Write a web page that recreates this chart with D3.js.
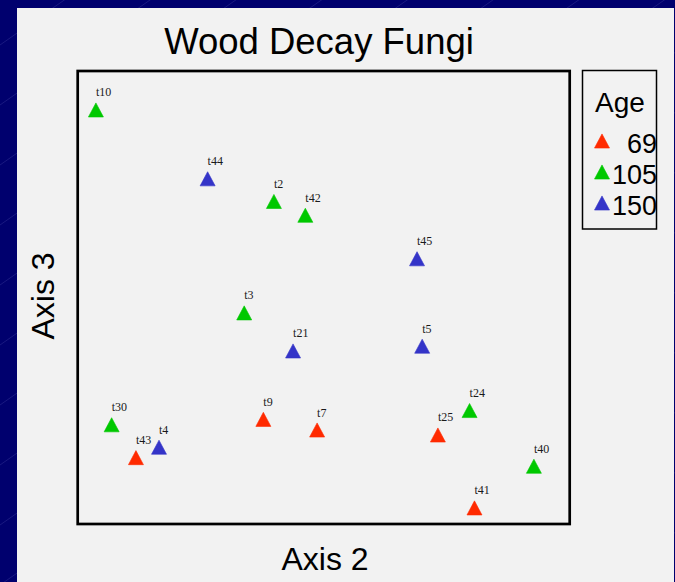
<!DOCTYPE html>
<html>
<head>
<meta charset="utf-8">
<script src="https://cdn.jsdelivr.net/npm/d3@7"></script>
<style>
  html, body { margin: 0; padding: 0; background: #00006e; }
  svg { display: block; }
</style>
</head>
<body>
<div id="chart"></div>
<script>
var labels = ["t10", "t44", "t2", "t42", "t45", "t3", "t21", "t5", "t30", "t43", "t4", "t9", "t7", "t24", "t25", "t40", "t41"];
var axis2 = [-0.927, -0.472, -0.202, -0.074, 0.381, -0.323, -0.124, 0.402, -0.863, -0.764, -0.670, -0.245, -0.026, 0.595, 0.466, 0.857, 0.615];
var axis3 = [0.828, 0.524, 0.424, 0.363, 0.171, -0.068, -0.236, -0.215, -0.562, -0.707, -0.661, -0.538, -0.585, -0.499, -0.607, -0.745, -0.929];
var age = [105, 150, 105, 105, 150, 105, 150, 150, 105, 69, 150, 69, 69, 105, 69, 105, 69];
var ageLevels = [69, 105, 150];
var ageColors = ["#ff2a00", "#00c800", "#3434c8"];

var W = 675, H = 582;

var svg = d3.select("#chart").append("svg")
  .attr("width", W)
  .attr("height", H);

// navy slide background with faint diagonal lines
svg.append("rect")
  .attr("width", W).attr("height", H)
  .attr("fill", "#00006e");

var bgLines = d3.range(-2, 25);
svg.append("g")
  .selectAll("line")
  .data(bgLines)
  .enter().append("line")
  .attr("x1", 0)
  .attr("y1", d => 45 + d * 60)
  .attr("x2", W)
  .attr("y2", d => 45 + d * 60 - 0.7 * W)
  .attr("stroke", "#5a5ab4")
  .attr("stroke-opacity", 0.4)
  .attr("stroke-width", 0.7);

// light panel
svg.append("rect")
  .attr("x", 17).attr("y", 8)
  .attr("width", 657).attr("height", H - 8)
  .attr("fill", "#f2f2f2");

var box = {left: 77.7, top: 71, right: 569.7, bottom: 524};

var x = d3.scaleLinear().domain([-1, 1]).range([78, 569]);
var y = d3.scaleLinear().domain([-1, 1]).range([524, 71]);
var color = d3.scaleOrdinal().domain(ageLevels).range(ageColors);

var data = [];
for (i = 0; i < labels.length; i++) {
  data.push({
    'label': labels[i],
    'x': axis2[i],
    'y': axis3[i],
    'age': age[i]
  });
}

// triangle, centred on its bounding box
function tri(cx, cy, s) {
  var p = d3.path();
  p.moveTo(cx, cy - s * 0.47);
  p.lineTo(cx + s * 0.5, cy + s * 0.47);
  p.lineTo(cx - s * 0.5, cy + s * 0.47);
  p.closePath();
  return p.toString();
}

svg.append("text")
  .attr("x", 319)
  .attr("y", 53.5)
  .attr("text-anchor", "middle")
  .style("font-family", "Liberation Sans, Arial, sans-serif")
  .style("font-size", "36.5px")
  .attr("fill", "#000")
  .text("Wood Decay Fungi");

svg.append("rect")
  .attr("x", box.left).attr("y", box.top)
  .attr("width", box.right - box.left)
  .attr("height", box.bottom - box.top)
  .attr("fill", "none")
  .attr("stroke", "#000")
  .attr("stroke-width", 2.7);

var pts = svg.append("g").attr("class", "points")
  .selectAll("g")
  .data(data)
  .enter().append("g");

pts.append("path")
  .attr("d", d => tri(x(d.x), y(d.y), 15))
  .attr("fill", d => color(d.age))
  .attr("stroke", d => color(d.age))
  .attr("stroke-width", 0.6);

pts.append("text")
  .attr("x", d => x(d.x))
  .attr("y", d => y(d.y) - 13.5)
  .style("font-family", "Liberation Serif, Times New Roman, serif")
  .style("font-size", "12px")
  .attr("fill", "#1a1a1a")
  .text(d => d.label);

svg.append("text")
  .attr("x", 325)
  .attr("y", 570)
  .attr("text-anchor", "middle")
  .style("font-family", "Liberation Sans, Arial, sans-serif")
  .style("font-size", "32px")
  .text("Axis 2");

svg.append("text")
  .attr("transform", "translate(54,296) rotate(-90)")
  .attr("text-anchor", "middle")
  .style("font-family", "Liberation Sans, Arial, sans-serif")
  .style("font-size", "32px")
  .text("Axis 3");

// legend
var legend = svg.append("g").attr("class", "legend");

legend.append("rect")
  .attr("x", 582.5).attr("y", 70.5)
  .attr("width", 74).attr("height", 158.5)
  .attr("fill", "none")
  .attr("stroke", "#000")
  .attr("stroke-width", 1.5);

legend.append("text")
  .attr("x", 620)
  .attr("y", 111.5)
  .attr("text-anchor", "middle")
  .style("font-family", "Liberation Sans, Arial, sans-serif")
  .style("font-size", "28px")
  .text("Age");

var items = legend.selectAll("g.item")
  .data(ageLevels)
  .enter().append("g")
  .attr("class", "item")
  .attr("transform", (d, i) => "translate(0," + (i * 31) + ")");

items.append("path")
  .attr("d", d => tri(602, 141, 15))
  .attr("fill", d => color(d))
  .attr("stroke", d => color(d))
  .attr("stroke-width", 0.6);

items.append("text")
  .attr("x", 657)
  .attr("y", 153)
  .attr("text-anchor", "end")
  .style("font-family", "Liberation Sans, Arial, sans-serif")
  .style("font-size", "27px")
  .text(d => d);
</script>
</body>
</html>
